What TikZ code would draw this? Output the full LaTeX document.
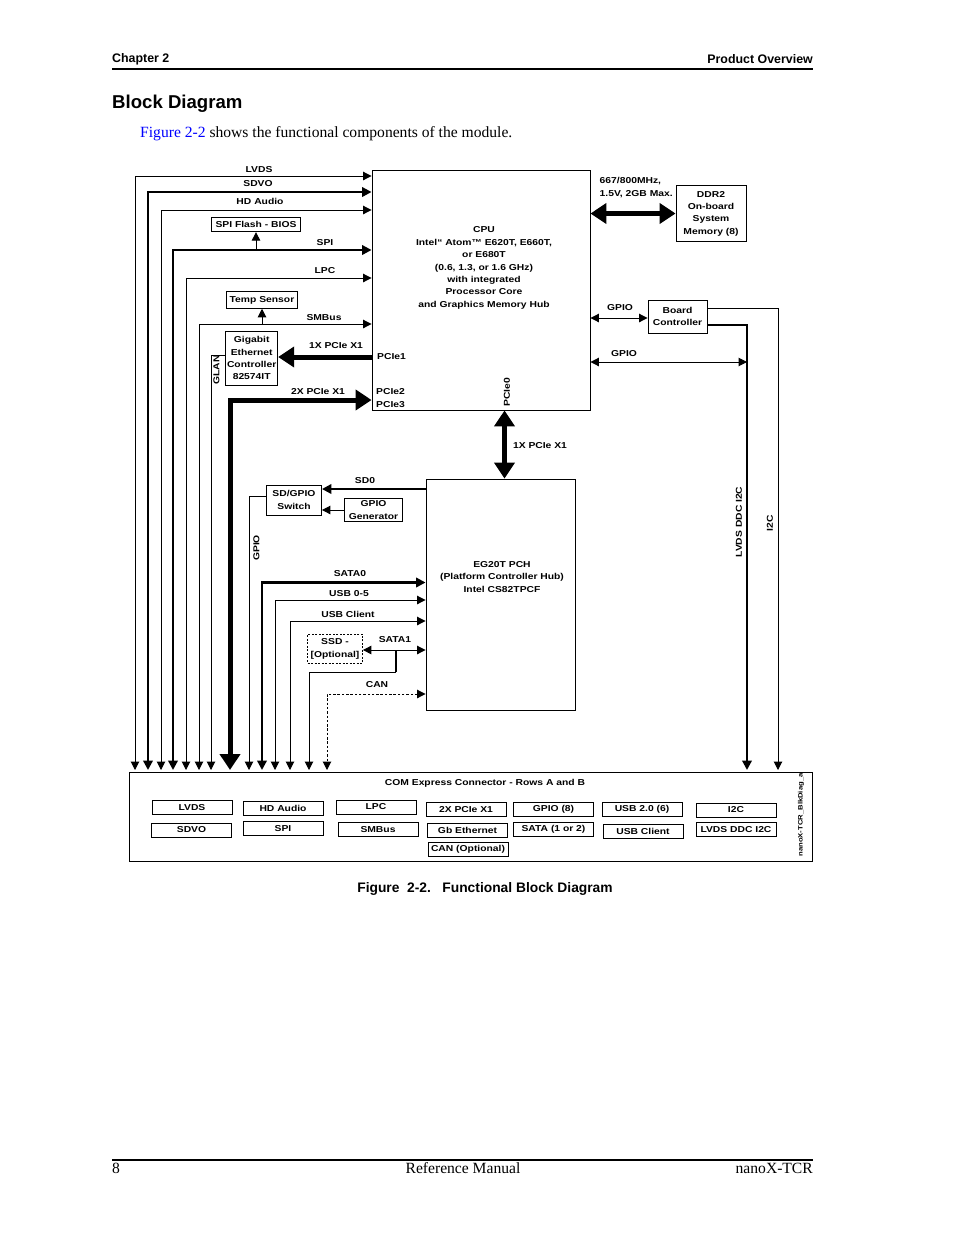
\documentclass[tikz,border=0pt]{standalone}
\usepackage{fontspec}
\setmainfont{Liberation Serif}
\newfontfamily\hdr{Liberation Sans}
\newfontfamily\dg[FakeStretch=1.2]{Liberation Sans}
\usetikzlibrary{arrows.meta}
\newcommand\dgf{\dg\bfseries\fontsize{8.6}{12.4}\selectfont}
\newcommand\hdrf{\hdr\bfseries\fontsize{12.4}{14}\selectfont}
\tikzset{
  lbl/.style={font=\dgf, inner sep=0pt, align=center},
  box/.style={draw, line width=0.9pt, font=\dgf, align=center, inner sep=0pt},
  cbox/.style={box, minimum width=80pt, minimum height=14pt},
  ln/.style={line width=1pt, >={Triangle[length=8.5pt,width=8.5pt]}},
  lnm/.style={line width=2.2pt, >={Triangle[length=9.5pt,width=9.5pt]}},
  lnk/.style={line width=5pt, >={Triangle[length=16pt,width=20pt]}},
  dsh/.style={ln, dash pattern=on 2.5pt off 1.8pt},
}
\begin{document}
\begin{tikzpicture}[x=1pt,y=-1pt]
\fill[white] (0,0) rectangle (954,1235);
\useasboundingbox (0,0) rectangle (954,1235);

% page header / footer
\node[anchor=west,font=\hdrf,inner sep=0pt] (chap) at (112,59) {Chapter 2};
\node[anchor=east,font=\hdrf,inner sep=0pt] (povw) at (813,59) {Product Overview};
\draw[line width=1.3pt] (112,69) -- (813,69);
\node[anchor=west,font=\hdr\bfseries\fontsize{18.6}{22}\selectfont,inner sep=0pt] (ttl) at (112,104) {Block Diagram};
\node[anchor=west,font=\fontsize{15.6}{18}\selectfont,inner sep=0pt] (intro) at (140,134) {\textcolor{blue}{Figure 2-2} shows the functional components of the module.};
\node[font=\hdr\bfseries\fontsize{13.8}{16}\selectfont,inner sep=0pt] (cap) at (485,889) {Figure\ \ 2-2.\ \ \ Functional Block Diagram};
\draw[line width=2.2pt] (112,1160) -- (813,1160);
\node[anchor=west,font=\fontsize{15.6}{18}\selectfont,inner sep=0pt] (pg) at (112,1168) {8};
\node[font=\fontsize{15.6}{18}\selectfont,inner sep=0pt] (rm) at (463,1168) {Reference Manual};
\node[anchor=east,font=\fontsize{15.6}{18}\selectfont,inner sep=0pt] (nx) at (813,1168) {nanoX-TCR};

% main blocks
\node[box, minimum width=218pt, minimum height=240pt] (cpu) at (481,290) {};
\node[lbl] (cputxt) at (484,268) {CPU\\Intel“ Atom™ E620T, E660T,\\or E680T\\(0.6, 1.3, or 1.6 GHz)\\with integrated\\Processor Core\\and Graphics Memory Hub};
\node[box, minimum width=70pt, minimum height=56pt] (ddr) at (711,213.5) {DDR2\\On-board\\System\\Memory (8)};
\node[box, minimum width=59pt, minimum height=33pt] (bc) at (677.5,316.5) {Board\\Controller};
\node[box, minimum width=89pt, minimum height=14pt] (spif) at (256,224.7) {SPI Flash - BIOS};
\node[box, minimum width=71pt, minimum height=16.6pt] (temp) at (262,300) {Temp Sensor};
\node[box, minimum width=52pt, minimum height=53.3pt] (gige) at (251.7,358.3) {Gigabit\\Ethernet\\Controller\\82574IT};
\node[box, minimum width=149pt, minimum height=231pt] (pch) at (500.5,594.5) {};
\node[lbl] (pchtxt) at (502,577) {EG20T PCH\\(Platform Controller Hub)\\Intel CS82TPCF};
\node[box, minimum width=55pt, minimum height=30pt] (sw) at (294,500) {SD/GPIO\\Switch};
\node[box, minimum width=58.4pt, minimum height=23.4pt] (gen) at (373.5,510) {GPIO\\Generator};
\node[box, dash pattern=on 2pt off 1.5pt, line width=0.8pt, minimum width=55pt, minimum height=29pt] (ssd) at (335,648.8) {SSD -\\{[Optional]}};
\node[box, minimum width=683pt, minimum height=89pt] (com) at (470.5,816.5) {};

% CPU internal labels
\node[lbl, anchor=west] (p1) at (377,357) {PCIe1};
\node[lbl, anchor=west] (p2) at (376,392) {PCIe2};
\node[lbl, anchor=west] (p3) at (376,405) {PCIe3};
\node[lbl, rotate=90] (p0) at (507,392) {PCIe0};

% connector content
\node[lbl] (comt) at (485,783.5) {COM Express Connector - Rows A and B};
\node[cbox] (c1) at (192,807.5) {LVDS};
\node[cbox] (c2) at (283,808) {HD Audio};
\node[cbox] (c3) at (376,807) {LPC};
\node[cbox] (c4) at (466,809.5) {2X PCIe X1};
\node[cbox] (c5) at (553.5,809) {GPIO (8)};
\node[cbox] (c6) at (642,809) {USB 2.0 (6)};
\node[cbox] (c7) at (736,810) {I2C};
\node[cbox] (d1) at (191.5,830) {SDVO};
\node[cbox] (d2) at (283,828.5) {SPI};
\node[cbox] (d3) at (378,829.5) {SMBus};
\node[cbox] (d4) at (467.5,830.5) {Gb Ethernet};
\node[cbox] (d5) at (553.5,829.5) {SATA (1 or 2)};
\node[cbox] (d6) at (643,831) {USB Client};
\node[cbox] (d7) at (736,829.5) {LVDS DDC I2C};
\node[cbox] (e4) at (468,849.5) {CAN (Optional)};
\node[lbl, rotate=90, font=\dg\bfseries\fontsize{6.4}{8}\selectfont] (tag) at (801,815) {nanoX-TCR\_BlkDiag\_a};

% bottom arrow end points
\coordinate (b1) at (135,770);
\coordinate (b2) at (148,770);
\coordinate (b3) at (161,770);
\coordinate (b4) at (173,770);
\coordinate (b5) at (186,770);
\coordinate (b6) at (199,770);
\coordinate (b7) at (211,770);
\coordinate (b8) at (230,770);
\coordinate (b9) at (249,770);
\coordinate (b10) at (262,770);
\coordinate (b11) at (275,770);
\coordinate (b12) at (290,770);
\coordinate (b13) at (309,770);
\coordinate (b14) at (327,770);
\coordinate (b15) at (747,770);
\coordinate (b16) at (778,770);

% left buses
\draw[ln,<->] (cpu.west |- 0,176) -| (b1);
\node[lbl] at (259,170) {LVDS};
\draw[lnm,<->] (cpu.west |- 0,192) -| (b2);
\node[lbl] at (258,184) {SDVO};
\draw[ln,<->] (cpu.west |- 0,210) -| (b3);
\node[lbl] at (260,201) {HD Audio};
\draw[lnm,<->] (cpu.west |- 0,250) -| (b4);
\node[lbl] at (325,243) {SPI};
\draw[ln,->] (spif.south |- 0,250) -- (spif.south);
\draw[ln,<->] (cpu.west |- 0,278) -| (b5);
\node[lbl] at (325,271) {LPC};
\draw[ln,<->] (cpu.west |- 0,324) -| (b6);
\node[lbl] at (324,318) {SMBus};
\draw[ln,->] (temp.south |- 0,324) -- (temp.south);
\draw[lnk,->] (cpu.west |- 0,357) -- (gige.east |- 0,357);
\node[lbl] at (336,346) {1X PCIe X1};
\draw[ln,->] (gige.west |- 0,355) -| (b7);
\node[lbl, rotate=90] at (216.5,370) {GLAN};
\draw[lnk,<->] (cpu.west |- 0,400) -| (b8);
\node[lbl] at (318,392) {2X PCIe X1};

% right side
\draw[lnk,<->] (cpu.east |- ddr.west) -- (ddr.west);
\node[lbl, anchor=west] at (599.5,181) {667/800MHz,};
\node[lbl, anchor=west] at (599.5,194.5) {1.5V, 2GB Max.};
\draw[ln,<->] (cpu.east |- 0,318) -- (bc.west |- 0,318);
\node[lbl] at (620,308) {GPIO};
\draw[ln,->] (bc.east |- 0,308) -| (b16);
\draw[lnm,->] (bc.east |- 0,325) -| (b15);
\draw[ln,<->] (cpu.east |- 0,362) -- (b15 |- 0,362);
\node[lbl] at (624,354) {GPIO};
\node[lbl, rotate=90] at (739,522) {LVDS DDC I2C};
\node[lbl, rotate=90] at (770,523) {I2C};

% CPU - PCH
\draw[lnk,<->] (cpu.south -| 504.5,0) -- (pch.north -| 504.5,0);
\node[lbl] at (540,446) {1X PCIe X1};

% PCH side
\draw[lnm,->] (pch.west |- 0,489) -- (sw.east |- 0,489);
\node[lbl] at (365,481) {SD0};
\draw[ln,->] (gen.west) -- (sw.east |- gen.west);
\draw[ln,->] (sw.west |- 0,496.5) -| (b9);
\node[lbl, rotate=90] at (256.5,548) {GPIO};
\draw[lnm,<->] (pch.west |- 0,582.5) -| (b10);
\node[lbl] at (350,574) {SATA0};
\draw[ln,<->] (pch.west |- 0,600) -| (b11);
\node[lbl] at (349,594) {USB 0-5};
\draw[ln,<->] (pch.west |- 0,621) -| (b12);
\node[lbl] at (348,614) {USB Client};
\draw[ln,<->] (ssd.east |- 0,650) -- (pch.west |- 0,650);
\node[lbl] at (395,640) {SATA1};
\coordinate (jn) at (396,650);
\coordinate (jb) at (396,672);
\draw[lnm] (jn) -- (jb);
\draw[ln,->] (jb) -| (b13);
\draw[dsh,<->] (pch.west |- 0,694) -| (b14);
\node[lbl] at (377,685) {CAN};
\end{tikzpicture}
\end{document}
